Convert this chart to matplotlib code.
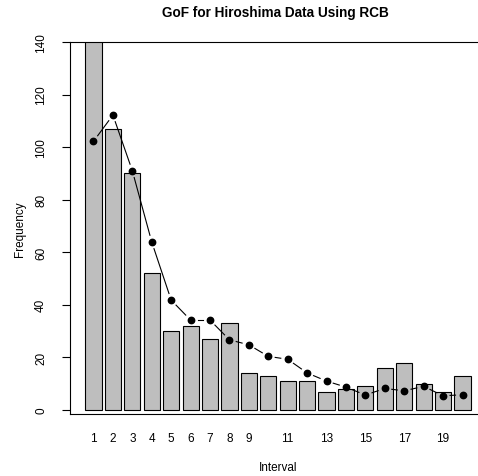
import numpy as np
import matplotlib
matplotlib.use('Agg')
import matplotlib.pyplot as plt

plt.rcParams['font.family'] = ['Liberation Sans', 'DejaVu Sans']

# observed counts per interval (bar 1 runs off the top of the plot)
interval = np.arange(1, 21)
observed = [158, 107, 90, 52, 30, 32, 27, 33, 14, 13,
            11, 11, 7, 8, 9, 16, 18, 10, 7, 13]
# expected counts under the RCB fit
expected = [102.2, 112.2, 91.0, 63.9, 41.8, 34.2, 34.2, 26.7, 24.8, 20.4,
            19.3, 14.1, 11.0, 8.7, 5.7, 8.2, 7.3, 9.0, 5.4, 5.8]
xlabels = ['1', '2', '3', '4', '5', '6', '7', '8', '9', '', '11', '',
           '13', '', '15', '', '17', '', '19', '']
yticks = [0, 20, 40, 60, 80, 100, 120, 140]

W, H = 478, 477
fig = plt.figure(figsize=(W/100., H/100.), dpi=100)
# axes box in pixels: left 70, right 486 (past the edge), top 43, bottom 415
ax = fig.add_axes([70./W, 1-415./H, (486.-70)/W, (415.-43)/H])

mids = 0.7 + 1.2*(interval - 1)
ax.bar(mids, observed, width=1.0, color='#bebebe', edgecolor='black',
       linewidth=0.8, zorder=2)

ax.set_xlim(-0.752, 24.952)
ax.set_ylim(-1.52, 140)

# R type="b": segments stop short of the points
gap = 7.0
pts = ax.transData.transform(np.column_stack([mids, expected]))
inv = ax.transData.inverted()
for p0, p1 in zip(pts[:-1], pts[1:]):
    d = np.hypot(*(p1 - p0))
    if d <= 2*gap:
        continue
    u = (p1 - p0)/d
    seg = inv.transform(np.array([p0 + u*gap, p1 - u*gap]))
    ax.plot(seg[:, 0], seg[:, 1], color='black', lw=0.8, zorder=3)
ax.plot(mids, expected, 'o', color='black', ms=4.6, zorder=4)

ax.set_xticks(mids)
ax.set_xticklabels(xlabels, fontsize=8.5)
ax.tick_params(axis='x', length=0, pad=13)
ax.set_yticks(yticks)
ax.set_yticklabels([str(v) for v in yticks], fontsize=8.5, rotation=90,
                   va='center')
ax.tick_params(axis='y', length=5.5, width=0.8, pad=11)

for s in ax.spines.values():
    s.set_linewidth(0.8)

ax.set_xlabel('Interval', fontsize=8.5, labelpad=12)
ax.set_ylabel('Frequency', fontsize=8.5, labelpad=6.5)
fig.text(275./W, 1-13./H, 'GoF for Hiroshima Data Using RCB',
         fontsize=9.8, fontweight='bold', ha='center', va='center')

plt.savefig('out.png', dpi=100)
